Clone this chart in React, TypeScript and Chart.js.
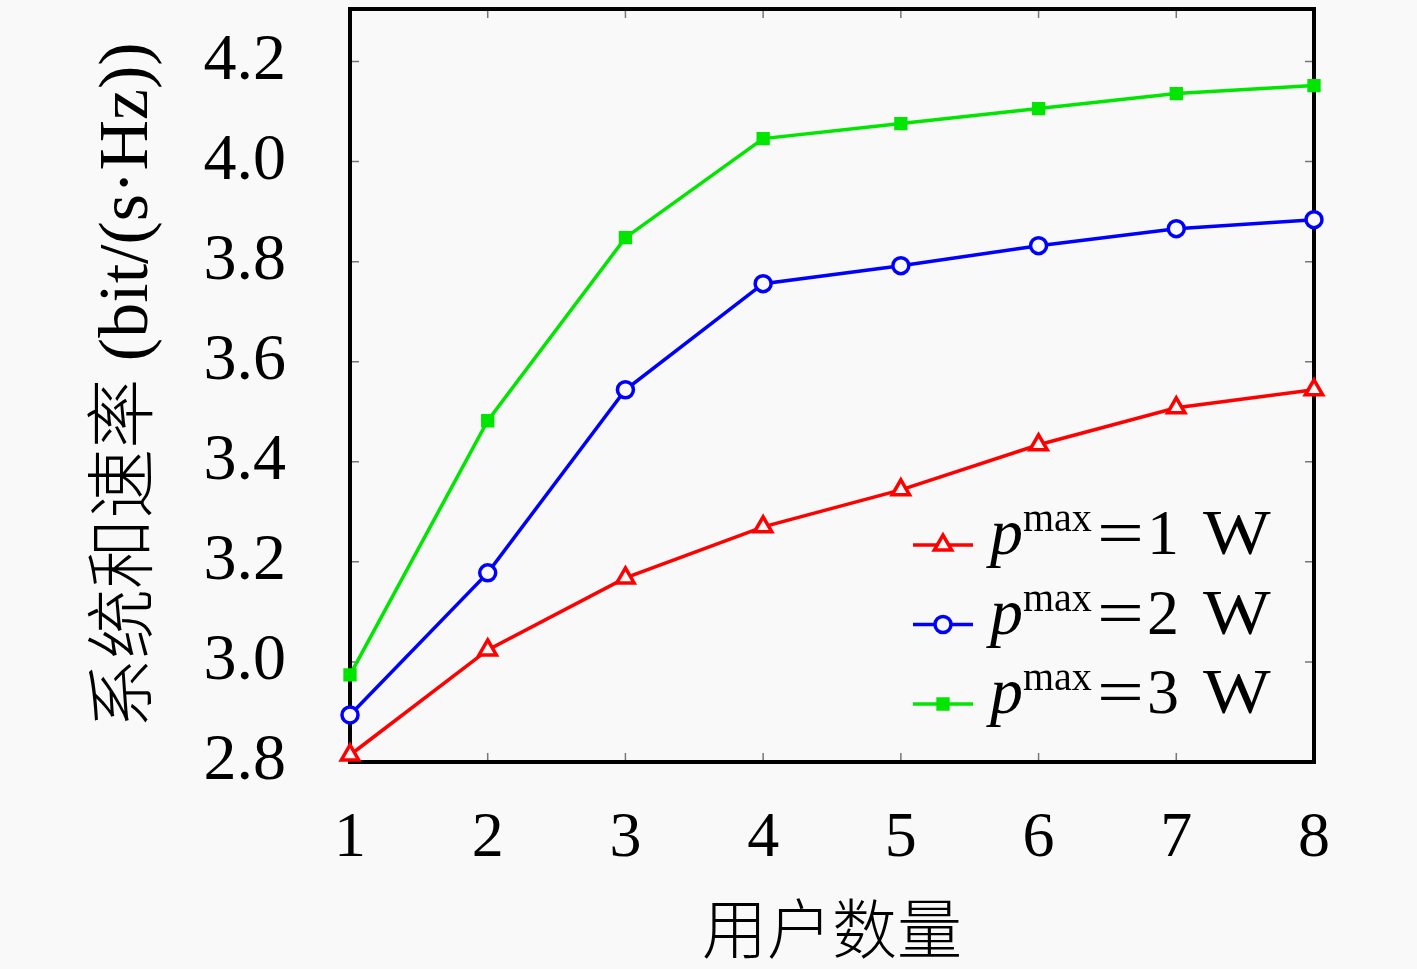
import { useEffect, useRef } from 'react';
import { Chart, registerables } from 'chart.js';
import { drawPoint } from 'chart.js/helpers';

Chart.register(...registerables);

const users = ['1', '2', '3', '4', '5', '6', '7', '8'];
const rate1W = [2.814, 3.024, 3.168, 3.27, 3.344, 3.434, 3.508, 3.544];
const rate2W = [2.894, 3.178, 3.544, 3.756, 3.792, 3.832, 3.866, 3.884];
const rate3W = [2.974, 3.482, 3.848, 4.046, 4.076, 4.106, 4.136, 4.152];
const powerLabels = ['1 W', '2 W', '3 W'];
const yTicks = [2.8, 3.0, 3.2, 3.4, 3.6, 3.8, 4.0, 4.2];

const FONT = "'Liberation Serif', 'Noto Sans CJK SC', serif";
const BG = '#f9f9f9';

const framePlugin = {
  id: 'frame',
  beforeDraw(chart: any) {
    const { ctx, width, height } = chart;
    ctx.save();
    ctx.fillStyle = BG;
    ctx.fillRect(0, 0, width, height);
    ctx.restore();
  },
  beforeDatasetsDraw(chart: any) {
    const { ctx, chartArea: a, scales } = chart;
    ctx.save();
    ctx.strokeStyle = '#777';
    ctx.lineWidth = 1.5;
    ctx.beginPath();
    yTicks.forEach((v) => {
      const y = scales.y.getPixelForValue(v);
      ctx.moveTo(a.left, y);
      ctx.lineTo(a.left + 9, y);
      ctx.moveTo(a.right, y);
      ctx.lineTo(a.right - 9, y);
    });
    users.forEach((_, i) => {
      const x = scales.x.getPixelForValue(i);
      ctx.moveTo(x, a.bottom);
      ctx.lineTo(x, a.bottom - 9);
      ctx.moveTo(x, a.top);
      ctx.lineTo(x, a.top + 9);
    });
    ctx.stroke();
    ctx.strokeStyle = '#000';
    ctx.lineWidth = 4;
    ctx.strokeRect(a.left, a.top, a.right - a.left, a.bottom - a.top);
    ctx.restore();
  },
  afterDraw(chart: any) {
    const { ctx, chartArea: a } = chart;
    const x0 = a.right - 401;
    chart.data.datasets.forEach((ds: any, i: number) => {
      const y = a.bottom - 217 + i * 79.5;
      ctx.save();
      ctx.strokeStyle = ds.borderColor;
      ctx.lineWidth = ds.borderWidth;
      ctx.beginPath();
      ctx.moveTo(x0, y);
      ctx.lineTo(x0 + 60, y);
      ctx.stroke();
      ctx.fillStyle = ds.pointBackgroundColor;
      ctx.strokeStyle = ds.pointBorderColor;
      ctx.lineWidth = ds.pointBorderWidth;
      drawPoint(
        ctx,
        { pointStyle: ds.pointStyle, radius: ds.pointRadius, borderWidth: ds.pointBorderWidth, rotation: 0 },
        x0 + 30,
        y
      );
      const base = y + 9;
      const [num, unit] = powerLabels[i].split(' ');
      ctx.fillStyle = '#000';
      ctx.textBaseline = 'alphabetic';
      ctx.textAlign = 'left';
      ctx.font = `italic 66px ${FONT}`;
      ctx.fillText('p', x0 + 77, base);
      ctx.font = `40px ${FONT}`;
      ctx.fillText('max', x0 + 110, base - 23);
      ctx.font = `64px ${FONT}`;
      ctx.save();
      ctx.translate(x0 + 184, base);
      ctx.scale(1.3, 1);
      ctx.fillText('=', 0, 0);
      ctx.restore();
      ctx.fillText(num, x0 + 234, base);
      ctx.save();
      ctx.translate(x0 + 290, base);
      ctx.scale(1.12, 1);
      ctx.fillText(unit, 0, 0);
      ctx.restore();
      ctx.restore();
    });
  },
};

export default function App() {
  const canvasRef = useRef<HTMLCanvasElement | null>(null);

  useEffect(() => {
    if (!canvasRef.current) return;
    const series = [
      { data: rate1W, color: '#ff0000', style: 'triangle', radius: 10, width: 3.5, fill: BG },
      { data: rate2W, color: '#0000ff', style: 'circle', radius: 8, width: 3.5, fill: BG },
      { data: rate3W, color: '#00e600', style: 'rect', radius: 8, width: 2, fill: '#00e600' },
    ];
    const chart = new Chart(canvasRef.current, {
      type: 'line',
      data: {
        labels: users,
        datasets: series.map((s, i) => ({
          label: `pmax=${powerLabels[i]}`,
          data: s.data,
          borderColor: s.color,
          borderWidth: 3.5,
          pointStyle: s.style,
          pointRadius: s.radius,
          pointBorderWidth: s.width,
          pointBorderColor: s.color,
          pointBackgroundColor: s.fill,
          clip: false,
          tension: 0,
        })) as any,
      },
      options: {
        animation: false,
        responsive: false,
        layout: { autoPadding: false, padding: { left: 0, right: 103, top: 9, bottom: 0 } },
        plugins: { legend: { display: false }, tooltip: { enabled: false } },
        scales: {
          x: {
            type: 'category',
            offset: false,
            grid: { display: false },
            border: { display: false },
            ticks: {
              color: '#000',
              font: { family: FONT, size: 64 },
              padding: 31,
              maxRotation: 0,
              autoSkip: false,
            },
            title: {
              display: true,
              text: '用户数量',
              color: '#000',
              font: { family: FONT, size: 65, weight: 300 },
              padding: { top: 0, bottom: 0 },
            },
            afterFit: (s: any) => {
              s.height = 213;
              s.paddingLeft = 0;
              s.paddingRight = 0;
            },
          },
          y: {
            min: 2.8,
            max: 4.305,
            grid: { display: false },
            border: { display: false },
            ticks: {
              stepSize: 0.2,
              includeBounds: false,
              color: '#000',
              font: { family: FONT, size: 66 },
              padding: 56,
              callback: (v: any) => Number(v).toFixed(1),
            },
            title: {
              display: true,
              text: '系统和速率 (bit/(s·Hz))',
              color: '#000',
              font: { family: FONT, size: 70, weight: 300 },
              padding: { top: 87, bottom: 0 },
            },
            afterFit: (s: any) => {
              s.width = 350;
              s.paddingTop = 0;
              s.paddingBottom = 0;
            },
          },
        },
      },
      plugins: [framePlugin],
    });
    return () => chart.destroy();
  }, []);

  return (
    <div style={{ position: 'fixed', left: 0, top: 0, width: 1417, height: 969, overflow: 'hidden', background: BG }}>
      <canvas ref={canvasRef} width={1417} height={975} style={{ display: 'block' }} />
    </div>
  );
}
